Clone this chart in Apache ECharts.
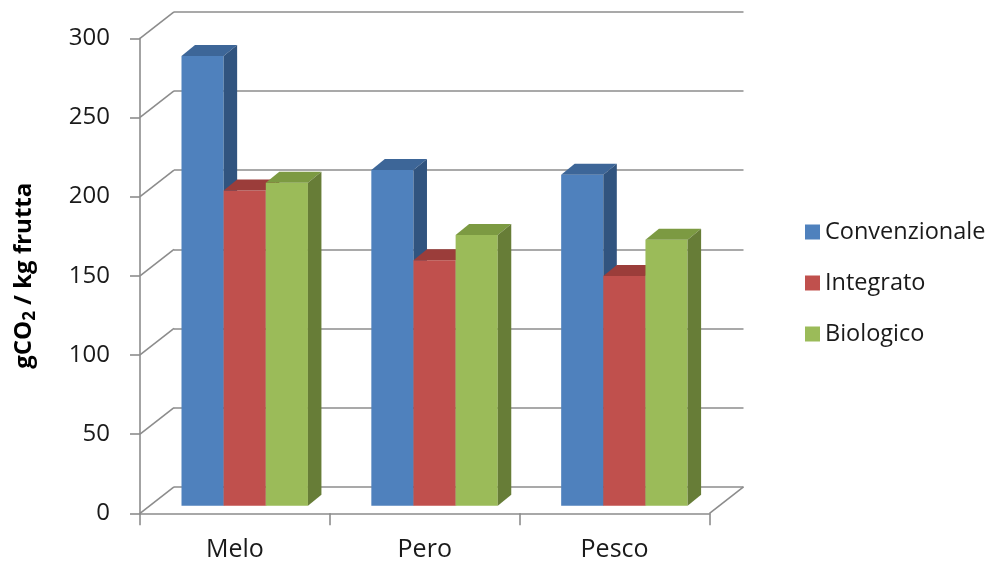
<!DOCTYPE html>
<html><head><meta charset="utf-8">
<script src="https://cdn.jsdelivr.net/npm/echarts@6/dist/echarts.min.js"></script>
<style>html,body{margin:0;padding:0;background:#fff}#c{width:995px;height:566px}</style>
</head><body><div id="c"></div>
<script>
// ---- data ----
const categories = ['Melo', 'Pero', 'Pesco'];
const seriesNames = ['Convenzionale', 'Integrato', 'Biologico'];
const convenzionale = [284, 212, 209];
const integrato = [199, 155, 145];
const biologico = [204, 171, 168];
const yTicks = [0, 50, 100, 150, 200, 250, 300];

// ---- layout / style ----
const FONT = '"Open Sans", sans-serif';
const TXT = '#1a1a1a';
const LINE = '#8c8c8c';
const FRONT = {left: 140, right: 285.5, top: 38.3, bottom: 52.7};
const WALL = {dx: 34, dy: -26.5};
const BAR = {ox: 9.8, oy: -7.6, dx: 13.5, dy: -11, ratio: 0.222};
const SHADES = [
  {front: '#4F81BD', top: '#3D6698', side: '#31547F'},
  {front: '#C0504D', top: '#9B3D3A', side: '#8C3634'},
  {front: '#9BBB59', top: '#7C9A42', side: '#677D37'}
];
const allValues = [convenzionale, integrato, biologico];

function barRender(k) {
  return function (params, api) {
    const c = api.value(0), v = api.value(1);
    const base = api.coord([c, 0]);
    const top = api.coord([c, v]);
    const band = api.size([1, 0])[0];
    const w = band * BAR.ratio;
    const x0 = base[0] - 1.5 * w + k * w + BAR.ox;
    const yb = base[1] + BAR.oy;
    const yt = top[1] + BAR.oy;
    const s = SHADES[k];
    return {
      type: 'group',
      children: [
        {type: 'rect', shape: {x: x0, y: yt, width: w, height: yb - yt}, style: {fill: s.front}},
        {type: 'polygon', shape: {points: [[x0, yt], [x0 + w, yt], [x0 + w + BAR.dx, yt + BAR.dy], [x0 + BAR.dx, yt + BAR.dy]]}, style: {fill: s.top}},
        {type: 'polygon', shape: {points: [[x0 + w, yt], [x0 + w + BAR.dx, yt + BAR.dy], [x0 + w + BAR.dx, yb + BAR.dy], [x0 + w, yb]]}, style: {fill: s.side}}
      ]
    };
  };
}

function wallRender(params, api) {
  const cs = params.coordSys;
  const v = api.value(1);
  const y = api.coord([0, v])[1];
  const children = [{
    type: 'line',
    shape: {x1: cs.x, y1: y, x2: cs.x + WALL.dx, y2: y + WALL.dy},
    style: {stroke: LINE, lineWidth: 1.6}
  }];
  if (v === 0) {
    children.push({
      type: 'line',
      shape: {x1: cs.x + cs.width, y1: y, x2: cs.x + cs.width + WALL.dx, y2: y + WALL.dy},
      style: {stroke: LINE, lineWidth: 1.6}
    });
  }
  return {type: 'group', children: children};
}

const chart = echarts.init(document.getElementById('c'), null, {renderer: 'canvas'});
const option = {
  backgroundColor: '#ffffff',
  animation: false,
  textStyle: {fontFamily: FONT},
  grid: [
    {left: FRONT.left, right: FRONT.right, top: FRONT.top, bottom: FRONT.bottom},
    {left: FRONT.left + WALL.dx, right: FRONT.right - WALL.dx, top: FRONT.top + WALL.dy, bottom: FRONT.bottom - WALL.dy}
  ],
  legend: {
    orient: 'vertical',
    left: 800,
    top: 215,
    itemWidth: 15,
    itemHeight: 15,
    itemGap: 27,
    icon: 'rect',
    data: seriesNames,
    textStyle: {fontFamily: FONT, fontSize: 23.5, color: TXT, lineHeight: 24, padding: [0, 0, 0, 0]}
  },
  xAxis: [
    {
      type: 'category', gridIndex: 0, data: categories, boundaryGap: true,
      axisLine: {show: true, lineStyle: {color: LINE, width: 1.6}},
      axisTick: {show: true, length: 12, lineStyle: {color: LINE, width: 1.6}},
      axisLabel: {fontFamily: FONT, fontSize: 25, color: TXT, margin: 24}
    },
    {type: 'category', gridIndex: 1, data: categories, show: false}
  ],
  yAxis: [
    {
      type: 'value', gridIndex: 0, min: 0, max: 300, interval: 50,
      name: '{a|gCO}{b|2}{a| / kg frutta}',
      nameLocation: 'middle', nameRotate: 90, nameGap: 101,
      nameTextStyle: {
        rich: {
          a: {fontFamily: FONT, fontSize: 24, fontWeight: 'bold', color: '#000', lineHeight: 30},
          b: {fontFamily: FONT, fontSize: 17, fontWeight: 'bold', color: '#000', lineHeight: 24, verticalAlign: 'bottom'}
        }
      },
      axisLine: {show: true, lineStyle: {color: LINE, width: 1.6}},
      axisTick: {show: true, length: 10, lineStyle: {color: LINE, width: 1.6}},
      axisLabel: {fontFamily: FONT, fontSize: 24, color: TXT, margin: 30},
      splitLine: {show: false}
    },
    {
      type: 'value', gridIndex: 1, min: 0, max: 300, interval: 50,
      axisLine: {show: false}, axisTick: {show: false}, axisLabel: {show: false},
      splitLine: {show: true, lineStyle: {color: LINE, width: 1.6}}
    }
  ],
  series: [
    {
      type: 'custom', name: '_wall', xAxisIndex: 0, yAxisIndex: 0, silent: true,
      renderItem: wallRender,
      data: yTicks.map(function (v) { return [0, v]; }),
      z: 1
    }
  ].concat(seriesNames.map(function (n, k) {
    return {
      type: 'custom', name: n, xAxisIndex: 0, yAxisIndex: 0,
      itemStyle: {color: SHADES[k].front},
      renderItem: barRender(k),
      data: allValues[k].map(function (v, i) { return [i, v]; }),
      z: 5
    };
  }))
};
chart.setOption(option);
</script>
</body></html>
